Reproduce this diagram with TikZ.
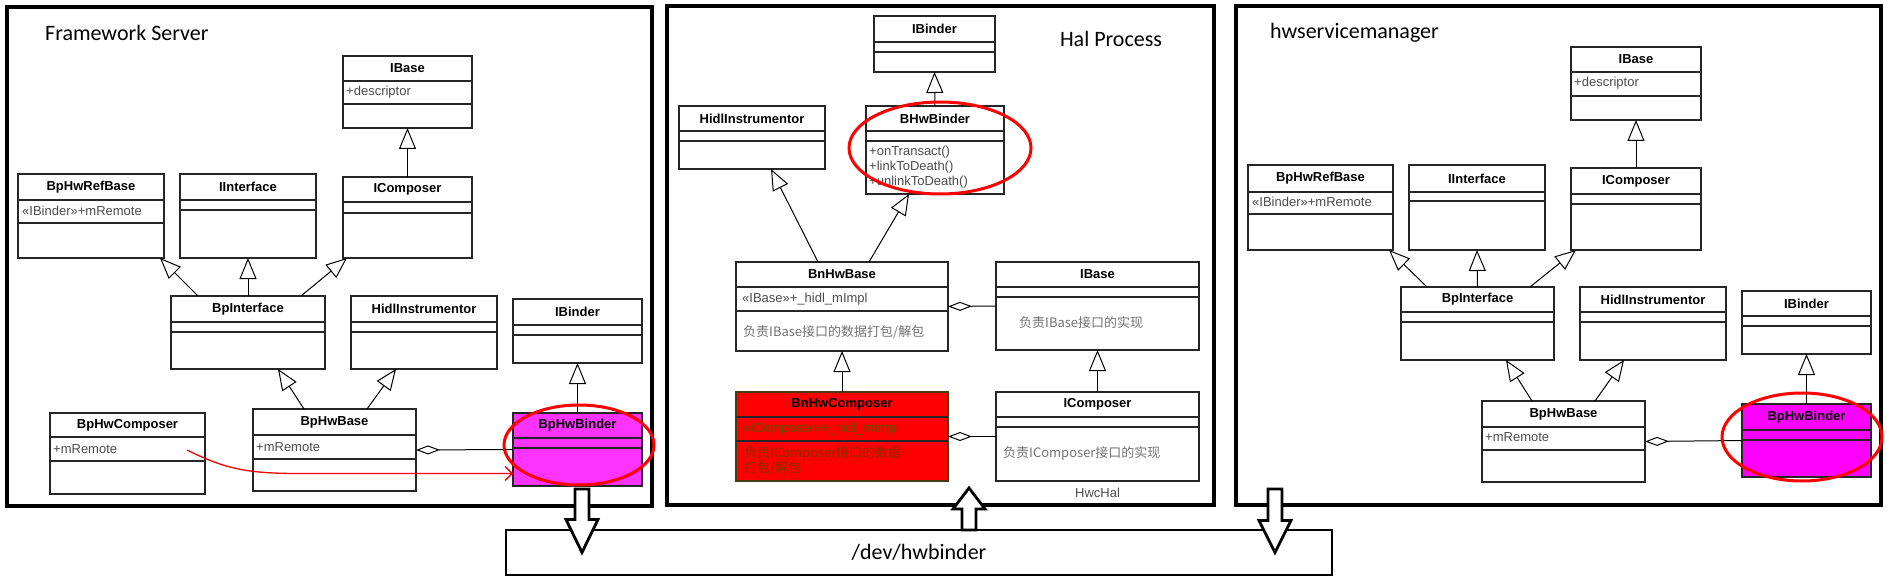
\documentclass[tikz,border=0pt]{standalone}
\usepackage{fontspec}
\setmainfont{Liberation Sans}
\newfontfamily\titlefont{Carlito}
\newfontfamily\cjk{Noto Sans CJK SC}
\usetikzlibrary{arrows.meta,calc,positioning}

\definecolor{binderpink}{RGB}{255,51,255}
\definecolor{bindermag}{RGB}{255,0,255}
\definecolor{stubred}{RGB}{255,0,0}
\definecolor{stubline}{RGB}{70,60,20}
\definecolor{stubtext}{RGB}{80,85,0}
\definecolor{stubnote}{RGB}{130,50,0}

\tikzset{
  cls/.style={rectangle, draw=black!85, line width=1.1pt, fill=white, inner sep=0pt, outer sep=0pt},
  clsline/.style={draw=black!85, line width=1.1pt},
  clstitle/.style={font=\fontsize{13}{15}\selectfont\bfseries, inner sep=0pt},
  attr/.style={font=\fontsize{13}{15}\selectfont, text=black!70, anchor=west, inner sep=0pt},
  note/.style={font=\cjk\fontsize{13}{15}\selectfont, text=black!55, anchor=west, inner sep=0pt, align=left},
  frame/.style={rectangle, draw, line width=3.5pt, inner sep=0pt, outer sep=0pt},
  frametitle/.style={font=\titlefont\fontsize{22}{26}\selectfont, inner sep=0pt},
  inherit/.style={-{Triangle[fill=white, length=21pt, width=17pt]}, line width=1pt},
  aggr/.style={{Diamond[fill=white, length=24pt, width=9pt]}-, line width=1pt},
  ring/.style={draw=red, line width=3pt},
  blockarr/.style={draw=black, fill=white, line width=2.8pt, line join=miter},
  binderfill/.style={fill=binderpink},
  stubfill/.style={fill=stubred, draw=stubline},
}

% name, style, x, y, width, height, separator 1, separator 2, title
\newcommand\umlclass[9]{%
  \node[cls,#2,minimum width=#5pt,minimum height=#6pt,anchor=north west] (#1) at (#3,#4) {};
  \draw[clsline] ($(#1.north west)+(0,#7)$) -- ($(#1.north east)+(0,#7)$);
  \draw[clsline] ($(#1.north west)+(0,#8)$) -- ($(#1.north east)+(0,#8)$);
  \node[clstitle] (#1-name) at ($(#1.north)+(0,#7/2)$) {#9};
}

% from, to, head length
\newcommand\blockarrow[3]{%
  \draw[blockarr] let \p1=#1, \p2=#2, \n1={sign(\y2-\y1)} in
    ({\x1-7pt},\y1) -- ({\x1-7pt},{\y2-(\n1)*#3pt}) -- ({\x1-16pt},{\y2-(\n1)*#3pt})
    -- (\x1,\y2) -- ({\x1+16pt},{\y2-(\n1)*#3pt}) -- ({\x1+7pt},{\y2-(\n1)*#3pt})
    -- ({\x1+7pt},\y1) -- cycle;
}

\begin{document}
\begin{tikzpicture}[x=1pt,y=-1pt]
  \useasboundingbox (0,0) rectangle (1887,580);

  \node[frame, minimum width=645pt, minimum height=499pt, anchor=north west] (fsFrame) at (7,7) {};
  \node[frame, minimum width=547pt, minimum height=499pt, anchor=north west] (hpFrame) at (667,6) {};
  \node[frame, minimum width=645pt, minimum height=499pt, anchor=north west] (hsFrame) at (1236,6) {};
  \node[frame, line width=2.8pt, minimum width=826pt, minimum height=45pt, font=\titlefont\fontsize{22}{26}\selectfont]
    (bus) at (919,552.5) {/dev/hwbinder};

  \node[frametitle, anchor=west] (fsTitle) at (45,33) {Framework Server};
  \node[frametitle] (hpTitle) at (1111,39) {Hal Process};
  \node[frametitle, anchor=west] (hsTitle) at (1270,33) {hwservicemanager};

  % Framework Server
  \umlclass{fsIBase}{}{343}{56}{129}{72}{25}{48}{IBase}
  \umlclass{fsRefBase}{}{18}{174}{146}{84}{26}{49}{BpHwRefBase}
  \umlclass{fsIInterface}{}{180}{174}{136}{84}{26}{36}{IInterface}
  \umlclass{fsIComposer}{}{343}{177}{129}{81}{25}{36}{IComposer}
  \umlclass{fsBpInterface}{}{171}{296}{154}{73}{26}{36}{BpInterface}
  \umlclass{fsHidl}{}{351}{296}{146}{73}{26}{36}{HidlInstrumentor}
  \umlclass{fsIBinder}{}{513}{299}{129}{64}{26}{36}{IBinder}
  \umlclass{fsBpHwComposer}{}{50}{413}{155}{81}{24}{48}{BpHwComposer}
  \umlclass{fsBpHwBase}{}{253}{409}{163}{82}{26}{50}{BpHwBase}
  \umlclass{fsBpHwBinder}{binderfill}{513}{413}{129}{73}{25}{35}{BpHwBinder}
  \node[attr] at ($(fsIBase.north west)+(3,36)$) {+descriptor};
  \node[attr] at ($(fsRefBase.north west)+(4,37)$) {«IBinder»+mRemote};
  \node[attr] at ($(fsBpHwComposer.north west)+(3,36)$) {+mRemote};
  \node[attr] at ($(fsBpHwBase.north west)+(3,38)$) {+mRemote};

  \draw[inherit] (fsIComposer.north) -- (fsIBase.south);
  \draw[inherit] ($(fsBpInterface.north west)+(27,0)$) -- ($(fsRefBase.south east)+(-4,0)$);
  \draw[inherit] (fsBpInterface.north) -- (fsIInterface.south);
  \draw[inherit] ($(fsBpInterface.north east)+(-24,0)$) -- ($(fsIComposer.south west)+(4,0)$);
  \draw[inherit] ($(fsBpHwBase.north west)+(51,0)$) -- ($(fsBpInterface.south west)+(107,0)$);
  \draw[inherit] ($(fsBpHwBase.north west)+(114,0)$) -- ($(fsHidl.south west)+(45,0)$);
  \draw[inherit] (fsBpHwBinder.north) -- (fsIBinder.south);
  \draw[aggr] (fsBpHwBase.east) -- (fsBpHwBinder.west);

  \draw[red, line width=1.3pt, -{Straight Barb[length=7pt, width=14pt]}]
    ($(fsBpHwComposer.north west)+(137,37)$) .. controls +(40,20) and +(-50,0) ..
    ($(fsBpHwBinder.west)+(-213,24)$) -- ($(fsBpHwBinder.west)+(0,24)$);
  \draw[ring] ($(fsBpHwBinder.center)+(1.5,-4.5)$) ellipse [x radius=75pt, y radius=40pt];

  % Hal Process
  \umlclass{hpIBinder}{}{874}{16}{121}{56}{26}{36}{IBinder}
  \umlclass{hpBHwBinder}{}{866}{106}{138}{88}{25}{35}{BHwBinder}
  \umlclass{hpHidl}{}{679}{106}{146}{63}{25}{35}{HidlInstrumentor}
  \umlclass{hpBnHwBase}{}{736}{262}{212}{89}{25}{49}{BnHwBase}
  \umlclass{hpIBase}{}{996}{262}{203}{88}{25}{35}{IBase}
  \umlclass{hpBnHwComposer}{stubfill}{736}{392}{212}{89}{25}{49}{BnHwComposer}
  \umlclass{hpIComposer}{}{996}{392}{203}{89}{25}{35}{IComposer}
  \node[attr] at ($(hpBHwBinder.north west)+(3,46)$) {+onTransact()};
  \node[attr] at ($(hpBHwBinder.north west)+(3,61)$) {+linkToDeath()};
  \node[attr] at ($(hpBHwBinder.north west)+(3,76)$) {+unlinkToDeath()};
  \node[attr] at ($(hpBnHwBase.north west)+(6,37)$) {«IBase»+\_hidl\_mImpl};
  \node[note] at ($(hpBnHwBase.north west)+(7,70)$) {负责IBase接口的数据打包/解包};
  \node[note] at ($(hpIBase.north west)+(23,61)$) {负责IBase接口的实现};
  \node[attr, text=stubtext] at ($(hpBnHwComposer.north west)+(7,37)$) {«IComposer»+\_hidl\_mImpl};
  \node[note, text=stubnote] at ($(hpBnHwComposer.north west)+(8,68.5)$) {负责IComposer接口的数据\\打包/解包};
  \node[note] at ($(hpIComposer.north west)+(7,61)$) {负责IComposer接口的实现};
  \node[attr, anchor=north, below=7pt of hpIComposer] (hwcHal) {HwcHal};

  \draw[inherit] (hpBHwBinder.north) -- (hpIBinder.south);
  \draw[inherit] ($(hpBnHwBase.north west)+(82,0)$) -- ($(hpHidl.south west)+(92,0)$);
  \draw[inherit] ($(hpBnHwBase.north west)+(133,0)$) -- ($(hpBHwBinder.south west)+(43,0)$);
  \draw[inherit] (hpBnHwComposer.north) -- (hpBnHwBase.south);
  \draw[inherit] (hpIComposer.north) -- (hpIBase.south);
  \draw[aggr] (hpBnHwBase.east) -- (hpIBase.west);
  \draw[aggr] (hpBnHwComposer.east) -- (hpIComposer.west);
  \draw[ring] ($(hpBHwBinder.center)+(5,-2)$) ellipse [x radius=91pt, y radius=46pt];

  % hwservicemanager
  \umlclass{hsIBase}{}{1571}{47}{130}{73}{25}{49}{IBase}
  \umlclass{hsRefBase}{}{1248}{165}{145}{85}{27}{49}{BpHwRefBase}
  \umlclass{hsIInterface}{}{1409}{165}{136}{85}{27}{36}{IInterface}
  \umlclass{hsIComposer}{}{1571}{168}{130}{82}{26}{36}{IComposer}
  \umlclass{hsBpInterface}{}{1401}{287}{153}{73}{25}{35}{BpInterface}
  \umlclass{hsHidl}{}{1580}{287}{146}{73}{25}{35}{HidlInstrumentor}
  \umlclass{hsIBinder}{}{1742}{291}{129}{63}{25}{35}{IBinder}
  \umlclass{hsBpHwBase}{}{1482}{401}{163}{81}{26}{49}{BpHwBase}
  \umlclass{hsBpHwBinder}{fill=bindermag}{1742}{404}{129}{73}{26}{36}{BpHwBinder}
  \node[attr] at ($(hsIBase.north west)+(3,36)$) {+descriptor};
  \node[attr] at ($(hsRefBase.north west)+(4,37)$) {«IBinder»+mRemote};
  \node[attr] at ($(hsBpHwBase.north west)+(3,36)$) {+mRemote};

  \draw[inherit] (hsIComposer.north) -- (hsIBase.south);
  \draw[inherit] ($(hsBpInterface.north west)+(26,0)$) -- ($(hsRefBase.south east)+(-4,0)$);
  \draw[inherit] (hsBpInterface.north) -- (hsIInterface.south);
  \draw[inherit] ($(hsBpInterface.north east)+(-24,0)$) -- ($(hsIComposer.south west)+(5,0)$);
  \draw[inherit] ($(hsBpHwBase.north west)+(50,0)$) -- ($(hsBpInterface.south west)+(105,0)$);
  \draw[inherit] ($(hsBpHwBase.north west)+(113,0)$) -- ($(hsHidl.south west)+(44,0)$);
  \draw[inherit] (hsBpHwBinder.north) -- (hsIBinder.south);
  \draw[aggr] (hsBpHwBase.east) -- (hsBpHwBinder.west);
  \draw[ring] ($(hsBpHwBinder.center)+(-4.5,-3.5)$) ellipse [x radius=80pt, y radius=44pt];

  % /dev/hwbinder
  \coordinate (fsOut) at ($(fsBpHwBinder.south)+(4.5,3)$);
  \coordinate (busOut) at ($(bus.north)+(50,0)$);
  \coordinate (hpIn) at (969,488);
  \coordinate (hsOut) at (1275,489);
  \blockarrow{(fsOut)}{(fsOut |- bus.center)}{33}
  \blockarrow{(busOut)}{(hpIn)}{21}
  \blockarrow{(hsOut)}{(hsOut |- bus.center)}{32}
\end{tikzpicture}
\end{document}
